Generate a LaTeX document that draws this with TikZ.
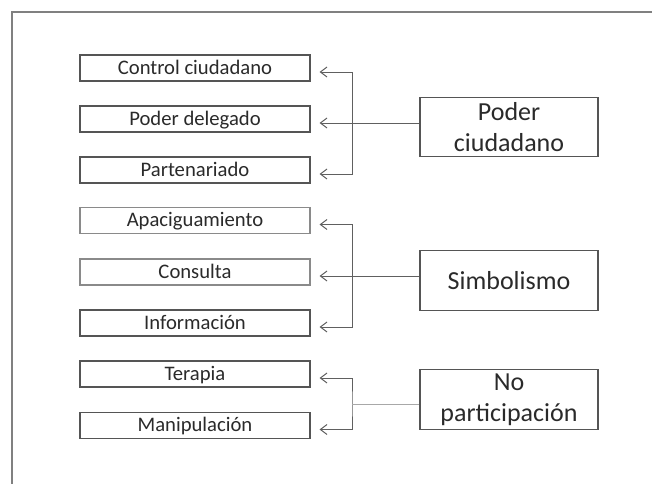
\documentclass[tikz,border=0pt]{standalone}
\usepackage{fontspec}
\setmainfont{Carlito}
\usetikzlibrary{arrows.meta}
\definecolor{boxgray}{HTML}{555555}
\definecolor{lightbox}{HTML}{8A8A8A}
\definecolor{linegray}{HTML}{606060}
\definecolor{lightline}{HTML}{A8A8A8}
\definecolor{txt}{HTML}{2A2A2A}
\tikzset{barbtip/.tip={Straight Barb[length=5pt, width=7.5pt, line width=0.75pt]}}
\begin{document}
\begin{tikzpicture}[x=0.75pt,y=-0.75pt,
  level/.style={draw=boxgray, line width=0.8pt, minimum width=172.5pt, minimum height=19.5pt, inner sep=0pt, text=txt, text height=11pt, text depth=2pt, font=\fontsize{15.5}{17}\selectfont},
  levellight/.style={level, draw=lightbox},
  group/.style={draw=boxgray, line width=0.8pt, minimum width=133.5pt, minimum height=44.5pt, inner sep=0pt, text=txt, align=center, font=\fontsize{19.5}{23}\selectfont},
  conn/.style={draw=linegray, line width=0.75pt},
  frame/.style={draw=gray, line width=0.9pt}
]
\useasboundingbox (0,0) rectangle (652,483);
\draw[frame] (653,12) -- (12,12) -- (12,484);

\node[level] (cc) at (195,68) {Control ciudadano};
\node[level] (pd) at (195,119) {Poder delegado};
\node[level] (pt) at (195,170) {Partenariado};
\node[levellight] (ap) at (195,220.5) {Apaciguamiento};
\node[levellight] (co) at (195,272) {Consulta};
\node[level] (in) at (195,323) {Información};
\node[level] (te) at (195,374) {Terapia};
\node[level] (ma) at (195,425.5) {Manipulación};

\node[group] (pc) at (509,127) {Poder\\ciudadano};
\node[group, text height=15pt, text depth=1.8pt] (si) at (509,280.5) {Simbolismo};
\node[group] (np) at (509,399.5) {No\\participación};

\coordinate (ecc) at ([shift={(9,4)}]cc.east);
\coordinate (epd) at ([shift={(9,4)}]pd.east);
\coordinate (ept) at ([shift={(9,4)}]pt.east);
\coordinate (eap) at ([shift={(9,4)}]ap.east);
\coordinate (eco) at ([shift={(9,4)}]co.east);
\coordinate (ein) at ([shift={(9,4)}]in.east);
\coordinate (ete) at ([shift={(9,4)}]te.east);
\coordinate (ema) at ([shift={(9,4)}]ma.east);

\coordinate (j1) at ([xshift=24.75pt]epd);
\coordinate (j2) at ([xshift=24.75pt]eco);
\coordinate (j3) at (352,404);

\draw[conn, {barbtip}-{barbtip}] (ecc) -| (j1) |- (ept);
\draw[conn, -{barbtip}] (pc.west |- epd) -- (epd);

\draw[conn, {barbtip}-{barbtip}] (eap) -| (j2) |- (ein);
\draw[conn, -{barbtip}] (si.west |- eco) -- (eco);

\draw[conn, {barbtip}-{barbtip}] (ete) -| (j3) |- (ema);
\draw[conn, draw=lightline] (np.west |- j3) -- (j3);
\end{tikzpicture}
\end{document}
